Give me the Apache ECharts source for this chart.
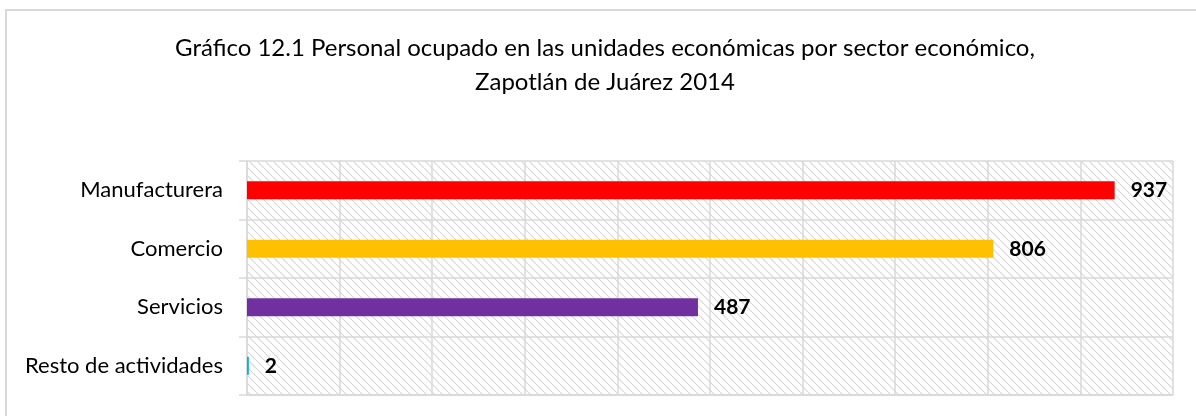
<!DOCTYPE html>
<html>
<head>
<meta charset="utf-8">
<script src="https://cdn.jsdelivr.net/npm/echarts@6/dist/echarts.min.js"></script>
<style>
  html, body { margin: 0; padding: 0; background: #fff; }
  #chart { width: 1196px; height: 416px; }
</style>
</head>
<body>
<div id="chart"></div>
<script>
// Personal ocupado por sector económico, Zapotlán de Juárez 2014
const categories = ['Manufacturera', 'Comercio', 'Servicios', 'Resto de actividades'];
const values = [937, 806, 487, 2];
const barColors = ['#FF0000', '#FFC000', '#7030A0', '#00B0F0'];
const titleLines = [
  'Gráfico 12.1 Personal ocupado en las unidades económicas por sector económico,',
  'Zapotlán de Juárez 2014'
];

// Diagonal hatch tile used as the plot-area fill
function hatchPattern() {
  const size = 8;
  const c = document.createElement('canvas');
  c.width = size; c.height = size;
  const ctx = c.getContext('2d');
  ctx.strokeStyle = '#d9d9d9';
  ctx.lineWidth = 1.2;
  for (let k = -size; k <= size; k += size) {
    ctx.beginPath();
    ctx.moveTo(k, 0);
    ctx.lineTo(k + size, size);
    ctx.stroke();
  }
  return { image: c, repeat: 'repeat' };
}

const gridLine = { color: '#d9d9d9', width: 1.5 };
const font = 'Lato, "Noto Sans", sans-serif';

const chart = echarts.init(document.getElementById('chart'), null, { renderer: 'canvas' });
chart.setOption({
  animation: false,
  backgroundColor: '#ffffff',
  textStyle: { fontFamily: font },
  graphic: [{
    type: 'rect',
    shape: { x: 6, y: 10, width: 1300, height: 500 },
    style: { fill: 'none', stroke: '#d9d9d9', lineWidth: 2 },
    silent: true
  }],
  title: {
    text: titleLines.join('\n'),
    left: 600,
    top: 26,
    textAlign: 'center',
    textStyle: {
      fontFamily: font,
      fontSize: 24,
      fontWeight: 'normal',
      color: '#000',
      lineHeight: 34
    }
  },
  grid: {
    left: 247,
    right: 23,
    top: 161,
    bottom: 21,
    show: true,
    backgroundColor: hatchPattern(),
    borderWidth: 0
  },
  xAxis: {
    type: 'value',
    min: 0,
    max: 1000,
    interval: 100,
    axisLabel: { show: false },
    axisTick: { show: false },
    axisLine: { show: true, lineStyle: gridLine },
    splitLine: { show: true, lineStyle: gridLine }
  },
  yAxis: {
    type: 'category',
    inverse: true,
    data: categories,
    axisLine: { show: true, lineStyle: gridLine },
    axisTick: { show: true, length: 8, lineStyle: gridLine },
    splitLine: { show: true, lineStyle: gridLine },
    axisLabel: {
      margin: 24,
      fontFamily: font,
      fontSize: 22,
      color: '#000'
    }
  },
  series: [{
    type: 'bar',
    barWidth: 18,
    data: values.map((v, i) => ({ value: v, itemStyle: { color: barColors[i] } })),
    label: {
      show: true,
      position: 'right',
      distance: 16,
      fontFamily: font,
      fontSize: 21,
      fontWeight: 'bold',
      color: '#000'
    }
  }]
});
</script>
</body>
</html>
